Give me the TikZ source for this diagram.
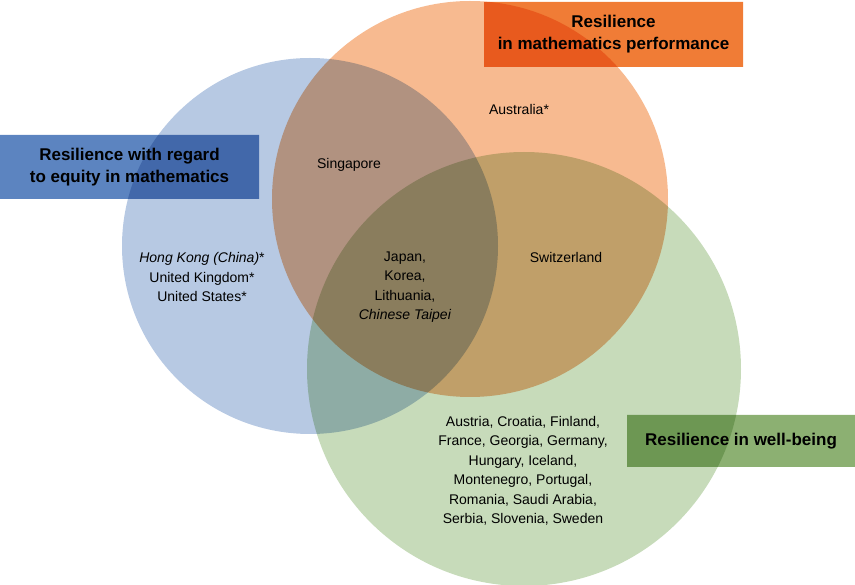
\documentclass[tikz,border=0pt]{standalone}
\usepackage{fontspec}
\setmainfont{Liberation Sans}
\usetikzlibrary{positioning}

\definecolor{equityblue}{RGB}{183,201,227}
\definecolor{mathorange}{RGB}{247,186,144}
\definecolor{wellgreen}{RGB}{199,219,186}
\definecolor{equitybox}{RGB}{92,132,192}
\definecolor{mathbox}{RGB}{240,124,54}
\definecolor{wellbox}{RGB}{140,176,114}

\tikzset{
    country/.style = {align=center, inner sep=0pt, font=\fontsize{14}{19.5}\selectfont},
    setname/.style = {align=center, inner sep=0pt, font=\bfseries\fontsize{17}{22}\selectfont},
}

\begin{document}
\begin{tikzpicture} [x=1pt, y=-1pt]
        \useasboundingbox (0,0) rectangle (855,585);

        \begin{scope}[blend group=multiply]
            \fill [equityblue] (310,246) circle (188);
            \fill [mathorange] (470,199) circle (198);
            \fill [wellgreen]  (524,369) circle (217);

            \node (equity) [setname, fill=equitybox, minimum width=259pt, minimum height=64pt]
                at (129.5,167) {Resilience with regard\\to equity in mathematics};
            \node (maths) [setname, fill=mathbox, minimum width=259pt, minimum height=65pt]
                at (613.5,34.5) {Resilience\\in mathematics performance};
            \node (wellbeing) [setname, fill=wellbox, minimum width=228pt, minimum height=52pt]
                at (741,441) {Resilience in well-being};
        \end{scope}

        \node (australia)   [country] at (519,109) {Australia*};
        \node (singapore)   [country] at (349,165) {Singapore};
        \node (switzerland) [country] at (566,257) {Switzerland};
        \node (hongkong)    [country] at (202,277)
            {\textit{Hong Kong (China)}*\\United Kingdom*\\United States*};
        \node (japan)       [country] at (405,287)
            {Japan,\\Korea,\\Lithuania,\\\textit{Chinese Taipei}};
        \node (austria)     [country] at (523,471)
            {Austria, Croatia, Finland,\\France, Georgia, Germany,\\Hungary, Iceland,\\Montenegro, Portugal,\\Romania, Saudi Arabia,\\Serbia, Slovenia, Sweden};
    \end{tikzpicture}
\end{document}
